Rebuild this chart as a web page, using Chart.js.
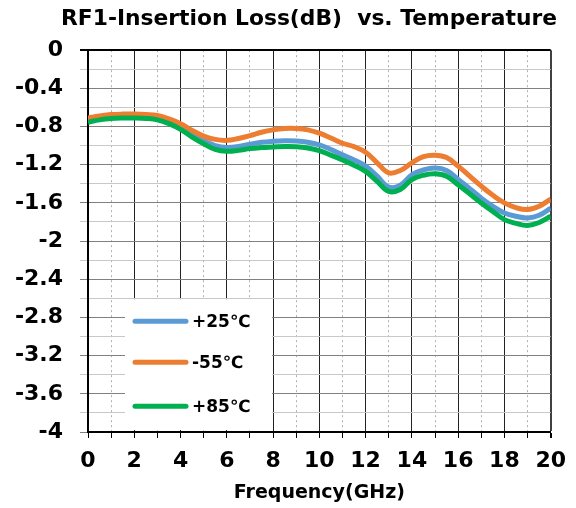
<!DOCTYPE html>
<html>
<head>
<meta charset="utf-8">
<script src="https://cdn.jsdelivr.net/npm/chart.js@4"></script>
<style>
    body { margin: 0; background: #fff; }
</style>
</head>
<body>
<canvas id="ilChart" width="576" height="508"></canvas>
<script>
// Frecuencias (GHz) y pérdidas de inserción (dB)
const freq = [0, 0.5, 1, 1.5, 2, 2.5, 3, 3.5, 4, 4.5, 5, 5.5, 6, 6.5, 7, 7.5, 8, 8.5, 9, 9.5, 10,
    10.5, 11, 11.5, 12, 12.5, 13, 13.5, 14, 14.5, 15, 15.5, 16, 16.5, 17, 17.5, 18, 18.5, 19, 19.5, 20];

const loss25 = [-0.735, -0.71, -0.695, -0.69, -0.69, -0.695, -0.705, -0.745, -0.80, -0.88, -0.95,
    -1.00, -1.02, -1.01, -0.985, -0.965, -0.955, -0.95, -0.952, -0.965, -0.993,
    -1.04, -1.097, -1.15, -1.215, -1.32, -1.435, -1.415, -1.305, -1.255, -1.235,
    -1.26, -1.355, -1.45, -1.55, -1.635, -1.705, -1.74, -1.757, -1.73, -1.655];

const lossM55 = [-0.71, -0.69, -0.675, -0.67, -0.67, -0.675, -0.685, -0.72, -0.77, -0.84, -0.90,
    -0.935, -0.945, -0.925, -0.895, -0.86, -0.835, -0.82, -0.82, -0.835, -0.87,
    -0.92, -0.975, -1.01, -1.07, -1.18, -1.285, -1.26, -1.18, -1.115, -1.10,
    -1.125, -1.215, -1.32, -1.425, -1.52, -1.60, -1.65, -1.67, -1.635, -1.56];

const loss85 = [-0.755, -0.73, -0.715, -0.71, -0.71, -0.715, -0.73, -0.77, -0.83, -0.91, -0.98,
    -1.04, -1.06, -1.05, -1.03, -1.02, -1.015, -1.01, -1.012, -1.025, -1.052,
    -1.10, -1.15, -1.205, -1.27, -1.375, -1.48, -1.46, -1.355, -1.31, -1.295,
    -1.32, -1.41, -1.505, -1.60, -1.69, -1.775, -1.815, -1.837, -1.805, -1.74];

const seriesNames = ["+25℃", "-55℃", "+85℃"];
const seriesColors = ["#5B9BD5", "#ED7D31", "#00B050"];

const FONT = "DejaVu Sans";
Chart.defaults.font.family = FONT;
Chart.defaults.color = "#000";

function toPoints(values) {
    return freq.map((f, i) => ({ x: f, y: values[i] }));
}

// Leyenda dibujada dentro del área del gráfico (caja blanca)
const boxLegend = {
    id: "boxLegend",
    afterDatasetsDraw(chart) {
        const { ctx, chartArea } = chart;
        const left = chartArea.left + 37;
        const top = chartArea.top + 249;
        ctx.save();
        ctx.fillStyle = "#fff";
        ctx.fillRect(left, top, 147, chartArea.bottom - 2 - top);
        ctx.font = "bold 17px " + FONT;
        ctx.textBaseline = "middle";
        const rows = [top + 22, top + 63, top + 107];
        chart.data.datasets.forEach((ds, i) => {
            ctx.strokeStyle = ds.borderColor;
            ctx.lineWidth = 5;
            ctx.lineCap = "round";
            ctx.beginPath();
            ctx.moveTo(left + 10, rows[i]);
            ctx.lineTo(left + 61, rows[i]);
            ctx.stroke();
            ctx.fillStyle = "#000";
            ctx.fillText(ds.label, left + 67, rows[i] + 1);
        });
        ctx.restore();
    }
};

const isMajorY = v => Math.round(v * 10) % 4 === 0;
const isMajorX = v => Math.round(v) % 2 === 0;

new Chart(document.getElementById("ilChart").getContext("2d"), {
    type: "scatter",
    data: {
        datasets: [
            { label: seriesNames[0], data: toPoints(loss25), borderColor: seriesColors[0], order: 3 },
            { label: seriesNames[1], data: toPoints(lossM55), borderColor: seriesColors[1], order: 2 },
            { label: seriesNames[2], data: toPoints(loss85), borderColor: seriesColors[2], order: 1 }
        ].map(ds => Object.assign(ds, {
            showLine: true,
            borderWidth: 5,
            pointRadius: 0,
            tension: 0.4,
            backgroundColor: ds.borderColor
        }))
    },
    options: {
        responsive: false,
        animation: false,
        layout: { padding: { left: 0, right: 19, top: 0, bottom: 0 } },
        plugins: {
            legend: { display: false },
            tooltip: { enabled: false },
            title: {
                display: true,
                text: "RF1-Insertion Loss(dB)  vs. Temperature",
                align: "end",
                font: { size: 21.8, weight: "bold" },
                color: "#000",
                padding: { top: 6, bottom: 18 }
            }
        },
        scales: {
            x: {
                type: "linear",
                min: 0,
                max: 20,
                afterFit: s => { s.height = 76; },
                ticks: {
                    stepSize: 1,
                    padding: 10,
                    autoSkip: false,
                    maxRotation: 0,
                    font: { size: 22, weight: "bold" },
                    color: "#000",
                    callback: v => isMajorX(v) ? String(v) : ""
                },
                grid: {
                    color: c => c.tick && c.tick.value === 20 ? "#404040" : (isMajorX(c.tick ? c.tick.value : 0) ? "#222" : "#b0b0b0"),
                    lineWidth: c => c.tick && c.tick.value === 20 ? 2 : 1,
                    tickColor: "#000",
                    tickLength: 6
                },
                border: {
                    color: "#000",
                    width: 2,
                    dash: c => (c.tick && !isMajorX(c.tick.value)) ? [2, 3] : []
                },
                title: {
                    display: true,
                    text: "Frequency(GHz)",
                    font: { size: 19, weight: "bold" },
                    color: "#000",
                    padding: { top: 0, bottom: 4 }
                }
            },
            y: {
                min: -4,
                max: 0,
                afterFit: s => { s.width = 88; },
                ticks: {
                    stepSize: 0.2,
                    padding: 17,
                    autoSkip: false,
                    font: { size: 22, weight: "bold" },
                    color: "#000",
                    callback: v => isMajorY(v) ? String(Math.round(v * 10) / 10) : ""
                },
                grid: {
                    color: c => {
                        const v = c.tick ? c.tick.value : -1;
                        if (Math.abs(v) < 1e-6) return "#000";
                        return isMajorY(v) ? "#808080" : "#c8c8c8";
                    },
                    lineWidth: c => (c.tick && Math.abs(c.tick.value) < 1e-6) ? 2 : 1,
                    tickLength: 8
                },
                border: { color: "#000", width: 2 }
            },
            // eje vacío a la derecha, sólo para dejar margen
            yRight: {
                position: "right",
                min: -4,
                max: 0,
                afterFit: s => { s.width = 6; },
                ticks: { display: false },
                grid: { display: false },
                border: { display: false }
            }
        }
    },
    plugins: [boxLegend]
});
</script>
</body>
</html>
